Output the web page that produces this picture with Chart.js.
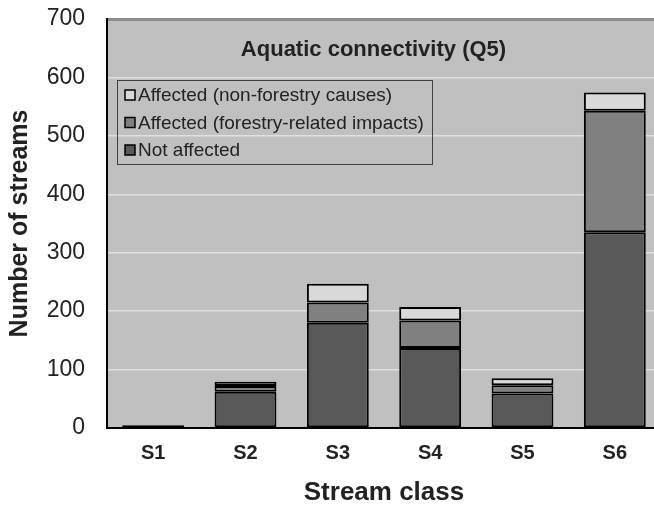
<!DOCTYPE html>
<html>
<head>
<meta charset="utf-8">
<script src="https://cdn.jsdelivr.net/npm/chart.js@4/dist/chart.umd.min.js"></script>
<style>
  html, body { margin: 0; padding: 0; background: #fff; overflow: hidden; }
  #wrap { width: 664px; height: 506px; }
</style>
</head>
<body>
<div id="wrap"><canvas id="chart"></canvas></div>
<script>
const categories = ['S1', 'S2', 'S3', 'S4', 'S5', 'S6'];
const notAffected = [4, 62, 180, 137, 59, 335];
const forestryImpacts = [1, 10, 35, 47, 14, 208];
const nonForestryCauses = [0, 7, 32, 23, 12, 31];
const yTicks = [0, 100, 200, 300, 400, 500, 600, 700];

const TEXT = '#222';

// gray plot area behind the bars
const plotBackground = {
  id: 'plotBackground',
  beforeDraw(chart) {
    const { ctx, chartArea: a } = chart;
    ctx.save();
    ctx.fillStyle = '#c0c0c0';
    ctx.fillRect(a.left, a.top, a.right - a.left, a.bottom - a.top);
    ctx.restore();
  }
};

// title and legend sit inside the plot, so draw them by hand
const insideText = {
  id: 'insideText',
  afterDraw(chart) {
    const ctx = chart.ctx;
    ctx.save();
    ctx.fillStyle = TEXT;
    ctx.font = 'bold 22px Arial, "Liberation Sans"';
    ctx.textAlign = 'center';
    ctx.textBaseline = 'alphabetic';
    ctx.fillText('Aquatic connectivity (Q5)', 373.5, 56);

    ctx.strokeStyle = '#404040';
    ctx.lineWidth = 1;
    ctx.strokeRect(117.5, 80.5, 315, 84);

    const sets = chart.data.datasets.slice().reverse();
    ctx.font = '19px Arial, "Liberation Sans"';
    ctx.textAlign = 'left';
    ctx.textBaseline = 'middle';
    sets.forEach((ds, i) => {
      const cy = 95 + i * 27.5;
      ctx.fillStyle = ds.backgroundColor;
      ctx.fillRect(125, cy - 5, 10, 10);
      ctx.strokeStyle = '#000';
      ctx.lineWidth = 1.5;
      ctx.strokeRect(125, cy - 5, 10, 10);
      ctx.fillStyle = TEXT;
      ctx.fillText(ds.label, 138, cy + 1);
    });
    ctx.restore();
  }
};

new Chart(document.getElementById('chart'), {
  type: 'bar',
  data: {
    labels: categories,
    datasets: [
      { label: 'Not affected', data: notAffected, backgroundColor: '#595959' },
      { label: 'Affected (forestry-related impacts)', data: forestryImpacts, backgroundColor: '#808080' },
      { label: 'Affected (non-forestry causes)', data: nonForestryCauses, backgroundColor: '#d9d9d9' }
    ].map(ds => Object.assign(ds, {
      borderColor: '#000',
      borderWidth: 2,
      borderSkipped: false,
      barPercentage: 0.67,
      categoryPercentage: 1
    }))
  },
  options: {
    responsive: true,
    maintainAspectRatio: false,
    animation: false,
    layout: { padding: { top: 19, right: 3, left: 0, bottom: 0 } },
    plugins: {
      legend: { display: false },
      title: { display: false },
      tooltip: { enabled: false }
    },
    scales: {
      x: {
        stacked: true,
        grid: { display: false, drawTicks: false },
        border: { display: true, color: '#000', width: 2 },
        ticks: {
          color: TEXT,
          padding: 13,
          font: { family: 'Arial, "Liberation Sans"', size: 20, weight: 'bold' }
        },
        title: {
          display: true,
          text: 'Stream class',
          color: TEXT,
          padding: 0,
          font: { family: 'Arial, "Liberation Sans"', size: 26, weight: 'bold', lineHeight: 1 }
        },
        afterFit(scale) {
          scale.height = 78;
          scale.paddingLeft = 0;
          scale.paddingRight = 0;
        }
      },
      y: {
        stacked: true,
        min: 0,
        max: 700,
        afterBuildTicks(scale) { scale.ticks = yTicks.map(v => ({ value: v })); },
        grid: {
          drawTicks: false,
          lineWidth: ctx => (ctx.tick && ctx.tick.value === 700 ? 3 : 1.5),
          color: ctx => (ctx.tick && ctx.tick.value === 700 ? '#8c8c8c' : '#e0e0e0')
        },
        border: { display: true, color: '#000', width: 2 },
        ticks: {
          color: TEXT,
          padding: 22,
          font: { family: 'Arial, "Liberation Sans"', size: 23 }
        },
        title: {
          display: true,
          text: 'Number of streams',
          color: TEXT,
          padding: { top: 8, bottom: 0 },
          font: { family: 'Arial, "Liberation Sans"', size: 25, weight: 'bold', lineHeight: 1 }
        },
        afterFit(scale) {
          scale.width = 107;
          scale.paddingTop = 0;
          scale.paddingBottom = 0;
        }
      }
    }
  },
  plugins: [plotBackground, insideText]
});
</script>
</body>
</html>
